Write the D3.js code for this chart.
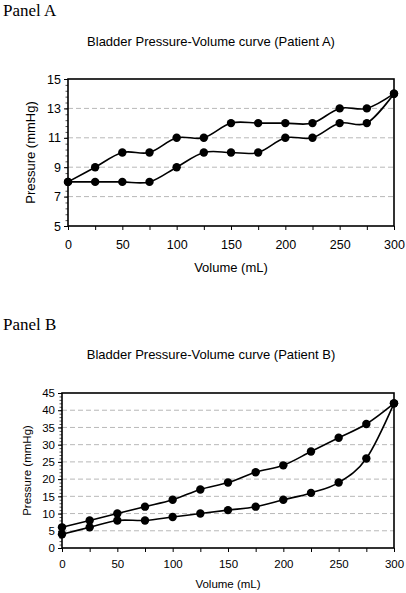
<!DOCTYPE html>
<html>
<head>
<meta charset="utf-8">
<script src="https://cdn.jsdelivr.net/npm/d3@7"></script>
<style>
  body { margin:0; background:#fff; }
  svg { display:block; }
  text { font-family: "Liberation Sans", Arial, sans-serif; fill:#000; }
  .panel { font-family: "Liberation Serif", "Times New Roman", serif; }
</style>
</head>
<body>
<svg id="chart"></svg>
<script>
// volumes in mL
var volumes = [0,25,50,75,100,125,150,175,200,225,250,275,300];

// Patient A pressures (mmHg)
var patientAUpper = [8,9,10,10,11,11,12,12,12,12,13,13,14];
var patientALower = [8,8,8,8,9,10,10,10,11,11,12,12,14];

// Patient B pressures (mmHg)
var patientBUpper = [6,8,10,12,14,17,19,22,24,28,32,36,42];
var patientBLower = [4,6,8,8,9,10,11,12,14,16,19,26,42];

var xTicks = [0,50,100,150,200,250,300];
var yTicksA = [5,7,9,11,13,15];
var yTicksB = [0,5,10,15,20,25,30,35,40,45];

var svg = d3.select("#chart").attr("width",406).attr("height",593);

drawPanel({
	label:"Panel A", labelY:16,
	title:"Bladder Pressure-Volume curve (Patient A)", titleY:46, titleSize:13,
	left:68, right:394, top:79, bottom:226,
	yDomain:[5,15], yTicks:yTicksA, yMinor:0.4, grid:[7,9,11,13],
	tickSize:12.5, xPad:10, xTitleSize:13, yTitleSize:13, xTitleY:272, yTitleX:35,
	series:[patientAUpper,patientALower]
});

drawPanel({
	label:"Panel B", labelY:330,
	title:"Bladder Pressure-Volume curve (Patient B)", titleY:359, titleSize:13,
	left:62, right:394, top:393, bottom:548,
	yDomain:[0,45], yTicks:yTicksB, yMinor:1, grid:[5,10,15,20,25,30,35,40],
	tickSize:11.5, xPad:8, xTitleSize:11.5, yTitleSize:11.5, xTitleY:588, yTitleX:31,
	series:[patientBUpper,patientBLower]
});

function drawPanel(c){
	var x = d3.scaleLinear().domain([0,300]).range([c.left,c.right]);
	var y = d3.scaleLinear().domain(c.yDomain).range([c.bottom,c.top]);

	svg.append("text").attr("class","panel")
	   .attr("x",3).attr("y",c.labelY)
	   .attr("font-size","17px")
	   .text(c.label);

	svg.append("text")
	   .attr("x",211).attr("y",c.titleY)
	   .attr("text-anchor","middle")
	   .attr("font-size",c.titleSize+"px")
	   .text(c.title);

	// grid
	svg.selectAll(null).data(c.grid).enter()
	   .append("line")
	   .attr("x1",c.left).attr("x2",c.right)
	   .attr("y1",function(d){return y(d);})
	   .attr("y2",function(d){return y(d);})
	   .attr("stroke","#b8b8b8")
	   .attr("stroke-width",1)
	   .attr("stroke-dasharray","5,3");

	// minor y ticks
	var minor = d3.range(c.yDomain[0],c.yDomain[1]+0.001,c.yMinor);
	svg.append("g")
	   .attr("transform","translate("+c.left+",0)")
	   .call(d3.axisLeft(y).tickValues(minor).tickSize(2.5).tickFormat(""))
	   .call(function(g){g.select(".domain").remove();})
	   .selectAll("line").attr("stroke","#555");

	// y axis
	var ya = svg.append("g")
	   .attr("transform","translate("+c.left+",0)")
	   .call(d3.axisLeft(y).tickValues(c.yTicks).tickSize(4).tickPadding(3));
	ya.select(".domain").remove();
	ya.selectAll("text").attr("font-size",c.tickSize+"px")
	   .attr("font-family","Liberation Sans, Arial, sans-serif");

	// x axis
	var xa = svg.append("g")
	   .attr("transform","translate(0,"+c.bottom+")")
	   .call(d3.axisBottom(x).tickValues(d3.range(0,301,25)).tickSize(4).tickPadding(c.xPad)
	         .tickFormat(function(d){return xTicks.indexOf(d)>=0 ? d : "";}));
	xa.select(".domain").remove();
	xa.selectAll("text").attr("font-size",c.tickSize+"px")
	   .attr("font-family","Liberation Sans, Arial, sans-serif");

	// frame
	svg.append("rect")
	   .attr("x",c.left).attr("y",c.top)
	   .attr("width",c.right-c.left).attr("height",c.bottom-c.top)
	   .attr("fill","none").attr("stroke","#000").attr("stroke-width",1.6);

	svg.append("text")
	   .attr("x",(c.left+c.right)/2).attr("y",c.xTitleY)
	   .attr("text-anchor","middle")
	   .attr("font-size",c.xTitleSize+"px")
	   .text("Volume (mL)");

	svg.append("text")
	   .attr("transform","translate("+c.yTitleX+","+((c.top+c.bottom)/2)+") rotate(-90)")
	   .attr("text-anchor","middle")
	   .attr("font-size",c.yTitleSize+"px")
	   .text("Pressure (mmHg)");

	var line = d3.line()
	   .x(function(d,i){return x(volumes[i]);})
	   .y(function(d){return y(d);})
	   .curve(d3.curveCatmullRom.alpha(0));

	c.series.forEach(function(s){
		svg.append("path").datum(s)
		   .attr("d",line)
		   .attr("fill","none")
		   .attr("stroke","#000")
		   .attr("stroke-width",1.6);
		svg.selectAll(null).data(s).enter()
		   .append("circle")
		   .attr("cx",function(d,i){return x(volumes[i]);})
		   .attr("cy",function(d){return y(d);})
		   .attr("r",4.2)
		   .attr("fill","#000");
	});
}
</script>
</body>
</html>
